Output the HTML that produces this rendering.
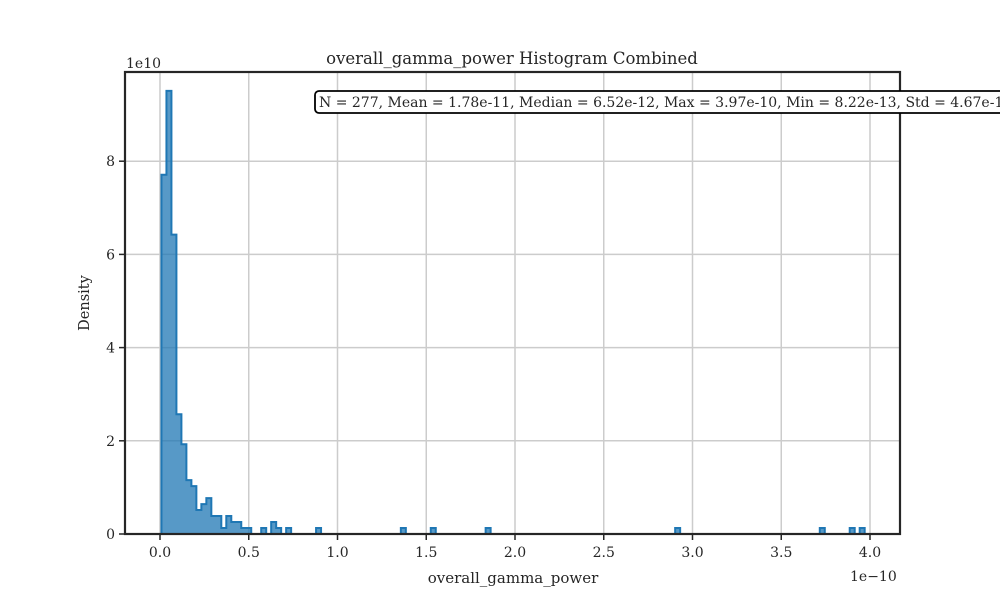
<!DOCTYPE html>
<html><head><meta charset="utf-8"><style>
body{margin:0;background:#fff;}
svg{display:block;font-family:"DejaVu Serif","Liberation Serif",serif;}
</style></head><body>
<svg id="chart" width="1000" height="600" xmlns="http://www.w3.org/2000/svg">
<g id="grid"></g>
<g id="bars"></g>
<g id="axes"></g>
<text x="512" y="64" text-anchor="middle" font-size="16.5" fill="#262626">overall_gamma_power Histogram Combined</text>
<text transform="translate(89,303) rotate(-90)" text-anchor="middle" font-size="14.5" fill="#262626">Density</text>
<text x="513" y="583" text-anchor="middle" font-size="15" fill="#262626">overall_gamma_power</text>
<text x="126" y="68" font-size="14" fill="#262626">1e10</text>
<text x="850" y="581" font-size="14" fill="#262626">1e−10</text>
<g>
<rect x="315" y="91" width="720" height="22" rx="4" fill="#fff" stroke="#000" stroke-width="1.8"/>
<text x="319" y="107" font-size="14" fill="#262626">N = 277, Mean = 1.78e-11, Median = 6.52e-12, Max = 3.97e-10, Min = 8.22e-13, Std = 4.67e-11</text>
</g>
</svg>
<script>
const N = 277;
const minVal = 0.00822, maxVal = 3.97, nBins = 141;
const mainCounts = [60,74,50,20,15,9,8,4,5,6,3,3,1,3,2,2,1,1];
const outlierValues = [0.59,0.64,0.67,0.72,0.9,1.37,1.535,1.845,2.91,3.745,3.905,3.96];
const outlierCounts = [1,2,1,1,1,1,1,1,1,1,1,1];
const xTicks = [0,0.5,1.0,1.5,2.0,2.5,3.0,3.5,4.0];
const xTickLabels = ["0.0","0.5","1.0","1.5","2.0","2.5","3.0","3.5","4.0"];
const yTicks = [0,2,4,6,8];

const L=125,R=900,T=72,B=534;
const xs = v => 160 + v*177.5;
const ys = v => 534 - v*46.6;
const NS="http://www.w3.org/2000/svg";
function mk(tag, attrs, parent){const e=document.createElementNS(NS,tag);for(const k in attrs)e.setAttribute(k,attrs[k]);parent.appendChild(e);return e;}
const grid=document.getElementById('grid'), axes=document.getElementById('axes'), bars=document.getElementById('bars');

xTicks.forEach((t,i)=>{
  const g=mk('line',{x1:xs(t),x2:xs(t),y1:T,y2:B,stroke:'#cccccc','stroke-width':1.5},grid);
  
  
  const tk=mk('line',{x1:xs(t),x2:xs(t),y1:B,y2:B+6,stroke:'#262626','stroke-width':1.5},axes);
  
  
  const tx=mk('text',{x:xs(t),y:B+23,'text-anchor':'middle','font-size':14,fill:'#262626'},axes);
  tx.textContent=xTickLabels[i];
  
  
});
yTicks.forEach(t=>{
  const g=mk('line',{x1:L,x2:R,y1:ys(t),y2:ys(t),stroke:'#cccccc','stroke-width':1.5},grid);
  
  
  const tk=mk('line',{x1:L-6,x2:L,y1:ys(t),y2:ys(t),stroke:'#262626','stroke-width':1.5},axes);
  
  
  const tx=mk('text',{x:L-10,y:ys(t)+5,'text-anchor':'end','font-size':14,fill:'#262626'},axes);
  tx.textContent=String(t);
  
  
});
const frame=mk('rect',{x:L,y:T,width:R-L,height:B-T,fill:'none',stroke:'#262626','stroke-width':2.2},axes);



const w=(maxVal-minVal)/nBins;
const counts=new Array(nBins).fill(0);
mainCounts.forEach((c,i)=>counts[i]+=c);
outlierValues.forEach((v,i)=>{let k=Math.min(nBins-1,Math.floor((v-minVal)/w));counts[k]+=outlierCounts[i];});
const dens=counts.map(c=>c/(N*w));
let d='M'+xs(minVal)+','+ys(0);
for(let i=0;i<nBins;i++){
  const x0=xs(minVal+i*w), x1=xs(minVal+(i+1)*w), y=ys(dens[i]);
  d+=' L'+x0+','+y+' L'+x1+','+y;
}
d+=' L'+xs(maxVal)+','+ys(0)+' Z';
const p=mk('path',{d:d,fill:'rgba(31,119,180,0.75)',stroke:'#1f77b4','stroke-width':2,'stroke-linejoin':'miter'},bars);


</script>
</body></html>
